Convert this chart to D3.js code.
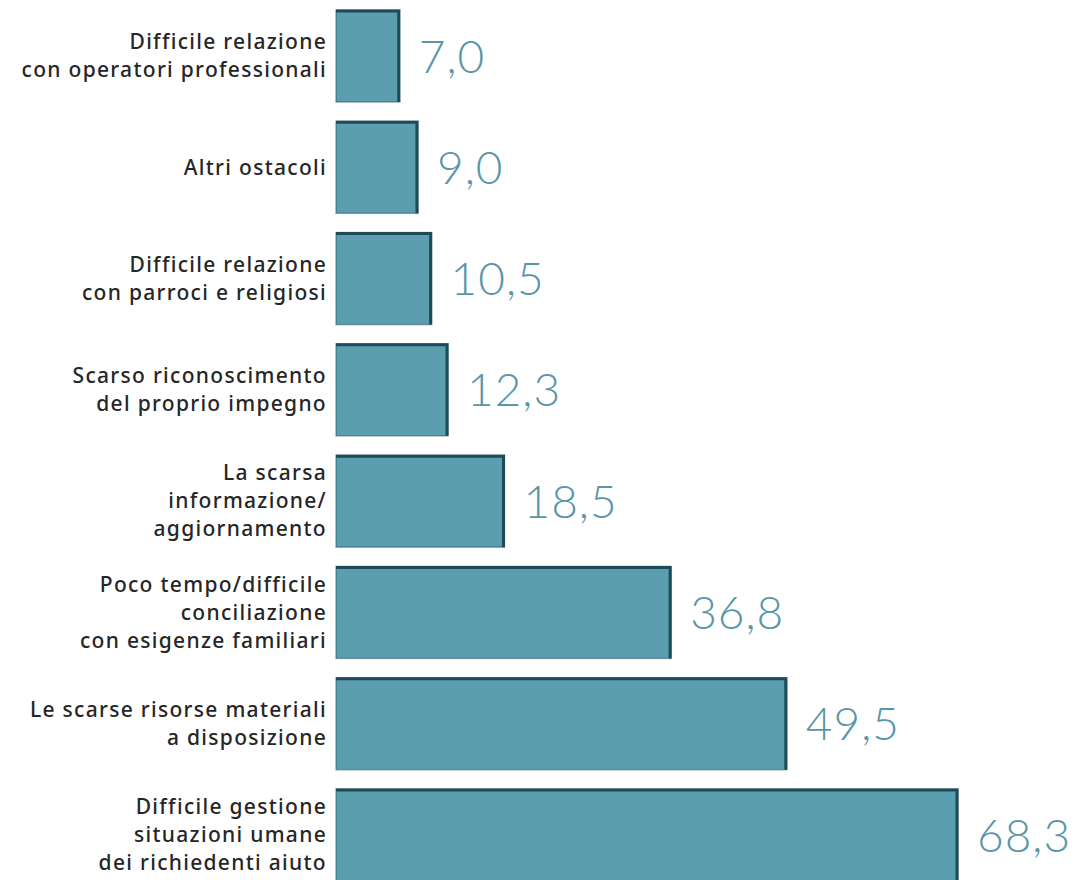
<!DOCTYPE html>
<html>
<head>
<meta charset="utf-8">
<script src="https://cdn.jsdelivr.net/npm/d3@7"></script>
<style>
  body { margin: 0; background: #fff; }
</style>
</head>
<body>
<div id="chart"></div>
<script>
// data
const categories = [
  ['Difficile relazione', 'con operatori professionali'],
  ['Altri ostacoli'],
  ['Difficile relazione', 'con parroci e religiosi'],
  ['Scarso riconoscimento', 'del proprio impegno'],
  ['La scarsa', 'informazione/', 'aggiornamento'],
  ['Poco tempo/difficile', 'conciliazione', 'con esigenze familiari'],
  ['Le scarse risorse materiali', 'a disposizione'],
  ['Difficile gestione', 'situazioni umane', 'dei richiedenti aiuto']
];
const values = [7.0, 9.0, 10.5, 12.3, 18.5, 36.8, 49.5, 68.3];

const width = 1080;
const height = 880;
const barLeft = 336;

const fillColor = '#5b9eb0';
const edgeColor = '#1d4b57';
const valueColor = '#5a96a8';
const labelColor = '#262626';

const svg = d3.select('#chart')
  .append('svg')
    .attr('width', width)
    .attr('height', height);

const xScale = d3.scaleLinear()
  .domain([0, 68.3])
  .range([barLeft, 958]);

const yScale = d3.scaleBand()
  .domain(d3.range(values.length))
  .range([10, 881])
  .paddingInner(0.173)
  .paddingOuter(0);

const rows = svg.selectAll('.row')
  .data(values)
  .join('g')
    .attr('class', 'row');

rows.append('rect')
  .attr('x', xScale(0))
  .attr('y', (d, i) => yScale(i))
  .attr('width', d => xScale(d) - xScale(0))
  .attr('height', yScale.bandwidth())
  .attr('fill', fillColor)
  .attr('stroke', edgeColor)
  .attr('stroke-opacity', 0.45)
  .attr('stroke-width', 1.5);

// darker edge on top and right side
rows.append('path')
  .attr('fill', 'none')
  .attr('stroke', edgeColor)
  .attr('stroke-width', 3)
  .attr('d', (d, i) => {
    const x0 = xScale(0), x1 = xScale(d);
    const y0 = yScale(i), y1 = yScale(i) + yScale.bandwidth();
    return `M${x0},${y0 + 1}L${x1 - 1},${y0 + 1}L${x1 - 1},${y1}`;
  });

rows.append('text')
  .attr('x', d => xScale(d) + 19)
  .attr('y', (d, i) => yScale(i) + yScale.bandwidth() / 2)
  .attr('dy', '0.36em')
  .style('font-family', 'Lato, "Open Sans", sans-serif')
  .style('font-weight', 300)
  .style('font-size', '46px')
  .style('letter-spacing', '1px')
  .attr('fill', valueColor)
  .text(d => d3.format('.1f')(d).replace('.', ','));

// category labels, right aligned
const lineHeight = 28;
svg.selectAll('.cat')
  .data(categories)
  .join('text')
    .attr('class', 'cat')
    .attr('text-anchor', 'end')
    .style('font-family', '"Noto Sans", sans-serif')
    .style('font-weight', 500)
    .style('font-size', '21px')
    .style('letter-spacing', '1.3px')
    .attr('fill', labelColor)
    .each(function(lines, i) {
      const cy = yScale(i) + yScale.bandwidth() / 2;
      const start = cy - (lines.length - 1) * lineHeight / 2;
      d3.select(this).selectAll('tspan')
        .data(lines)
        .join('tspan')
          .attr('x', 327)
          .attr('y', (l, j) => start + j * lineHeight)
          .attr('dy', '0.35em')
          .text(l => l);
    });
</script>
</body>
</html>
